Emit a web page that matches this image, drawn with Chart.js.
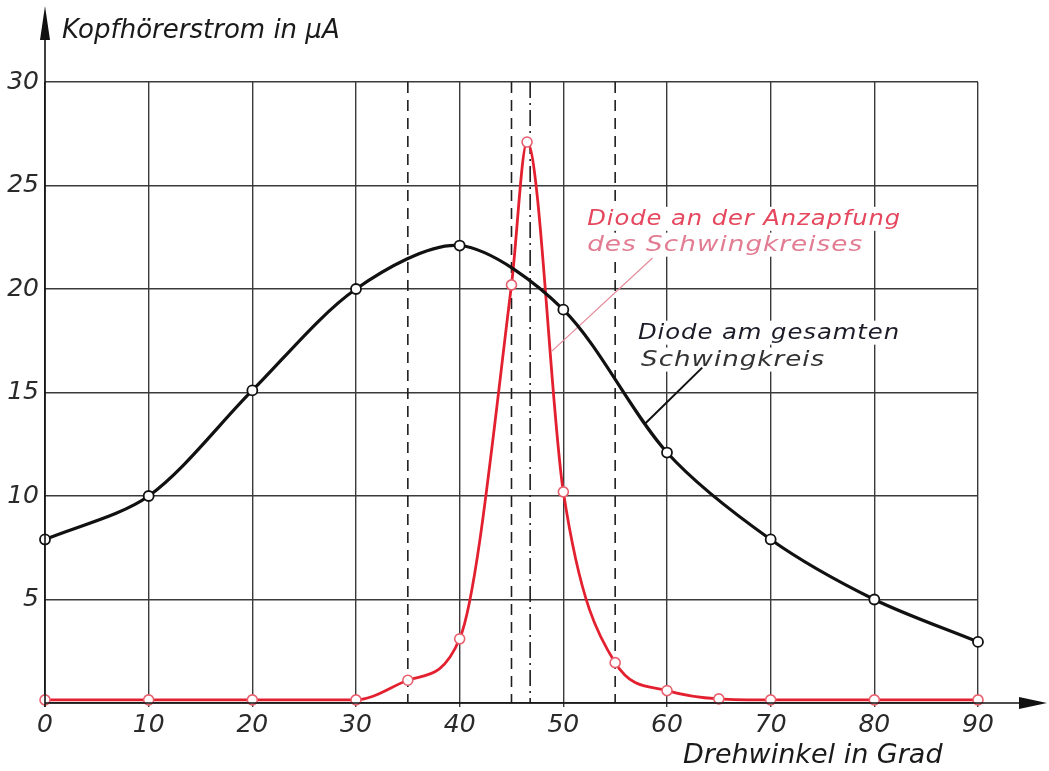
<!DOCTYPE html>
<html>
<head>
<meta charset="utf-8">
<script src="https://cdn.jsdelivr.net/npm/chart.js@4.4.1/dist/chart.umd.min.js"></script>
<style>
  body { margin: 0; background: #fff; }
  #wrap { width: 1049px; height: 771px; }
</style>
</head>
<body>
<div id="wrap"><canvas id="chart" width="1049" height="771"></canvas></div>
<script>
// Werte
const blackAngles = [0, 10, 20, 30, 40, 50, 60, 70, 80, 90];
const blackCurrent = [7.9, 10, 15.1, 20, 22.1, 19, 12.1, 7.9, 5, 2.95];

const redAngles = [0, 10, 20, 30, 35, 40, 45, 46.5, 50, 55, 60, 65, 70, 80, 90];
const redCurrent = [0.15, 0.15, 0.15, 0.15, 1.1, 3.1, 20.2, 27.1, 10.2, 1.95, 0.6, 0.2, 0.15, 0.15, 0.15];

const xTicks = [0, 10, 20, 30, 40, 50, 60, 70, 80, 90];
const yTicks = [5, 10, 15, 20, 25, 30];

const dashedAt = [35, 45, 55];
const dashDotAt = [46.8];

const fontFam = '"DejaVu Sans", "Liberation Sans", sans-serif';
const ink = '#2a2a2a';
const red = '#e3202f';

const toPoints = (xs, ys) => xs.map((x, i) => ({ x: x, y: ys[i] }));

// Zusatzelemente: Hilfslinien, Beschriftungen, Achsenpfeile
const decor = {
    id: 'decor',
    beforeDatasetsDraw(chart) {
        const ctx = chart.ctx;
        const a = chart.chartArea;
        const xs = chart.scales.x, ys = chart.scales.y;
        ctx.save();
        ctx.strokeStyle = '#1e1e1e';
        ctx.lineWidth = 1.6;
        ctx.setLineDash([11, 7]);
        dashedAt.forEach(v => {
            const px = xs.getPixelForValue(v);
            ctx.beginPath(); ctx.moveTo(px, a.top); ctx.lineTo(px, a.bottom); ctx.stroke();
        });
        ctx.setLineDash([16, 5, 2, 5]);
        dashDotAt.forEach(v => {
            const px = xs.getPixelForValue(v);
            ctx.beginPath(); ctx.moveTo(px, a.top); ctx.lineTo(px, a.bottom); ctx.stroke();
        });
        ctx.setLineDash([]);

        // Beschriftungen (breit gezogen) mit weissem Hintergrund
        ctx.font = 'italic 21px ' + fontFam;
        ctx.letterSpacing = '0.8px';
        const label = (text, xv, yv, color, width) => {
            const px = xs.getPixelForValue(xv), py = ys.getPixelForValue(yv);
            const w = ctx.measureText(text).width;
            const sx = width / w;
            ctx.fillStyle = '#fff';
            ctx.fillRect(px - 3, py - 18, width + 6, 24);
            ctx.save();
            ctx.translate(px, py);
            ctx.scale(sx, 1);
            ctx.fillStyle = color;
            ctx.fillText(text, 0, 0);
            ctx.restore();
        };
        label('Diode an der Anzapfung', 52.3, 23.1, '#e5485e', 314);
        label('des Schwingkreises', 52.3, 21.85, '#e27c92', 276);
        label('Diode am gesamten', 57.2, 17.6, '#1c1c28', 262);
        label('Schwingkreis', 57.5, 16.3, '#333', 184);
        ctx.letterSpacing = '0px';

        // Hinweislinien
        ctx.lineWidth = 1.2;
        ctx.strokeStyle = '#e58a9a';
        ctx.beginPath();
        ctx.moveTo(xs.getPixelForValue(58.6), ys.getPixelForValue(21.5));
        ctx.lineTo(xs.getPixelForValue(48.9), ys.getPixelForValue(17.0));
        ctx.stroke();
        ctx.lineWidth = 2;
        ctx.strokeStyle = '#111';
        ctx.beginPath();
        ctx.moveTo(xs.getPixelForValue(63.4), ys.getPixelForValue(16.2));
        ctx.lineTo(xs.getPixelForValue(57.9), ys.getPixelForValue(13.5));
        ctx.stroke();
        ctx.restore();
    },
    afterDraw(chart) {
        const ctx = chart.ctx;
        const a = chart.chartArea;
        ctx.save();
        ctx.strokeStyle = '#111';
        ctx.fillStyle = '#111';
        ctx.lineWidth = 1.6;
        // y-Achse mit Pfeil
        ctx.beginPath(); ctx.moveTo(a.left, a.bottom + 4); ctx.lineTo(a.left, 20); ctx.stroke();
        ctx.beginPath();
        ctx.moveTo(a.left, 6); ctx.lineTo(a.left + 5, 40); ctx.lineTo(a.left - 5, 40); ctx.closePath(); ctx.fill();
        // x-Achse mit Pfeil
        ctx.beginPath(); ctx.moveTo(a.left, a.bottom); ctx.lineTo(1030, a.bottom); ctx.stroke();
        ctx.beginPath();
        ctx.moveTo(1047, a.bottom); ctx.lineTo(1019, a.bottom - 6); ctx.lineTo(1019, a.bottom + 6); ctx.closePath(); ctx.fill();

        // Achsentitel
        ctx.fillStyle = '#1a1a1a';
        ctx.font = 'italic 26px ' + fontFam;
        ctx.fillText('Kopfhörerstrom in µA', 62, 38);
        ctx.font = 'italic 27px ' + fontFam;
        ctx.fillText('Drehwinkel in Grad', 683, 763);
        ctx.restore();
    }
};

new Chart(document.getElementById('chart'), {
    type: 'scatter',
    data: {
        datasets: [{
            label: 'Diode am gesamten Schwingkreis',
            data: toPoints(blackAngles, blackCurrent),
            showLine: true,
            clip: false,
            borderColor: '#111',
            borderWidth: 3.2,
            tension: 0.3,
            pointRadius: 5,
            pointBackgroundColor: '#fff',
            pointBorderColor: '#111',
            pointBorderWidth: 1.8
        }, {
            label: 'Diode an der Anzapfung des Schwingkreises',
            data: toPoints(redAngles, redCurrent),
            showLine: true,
            clip: false,
            borderColor: red,
            borderWidth: 2.8,
            cubicInterpolationMode: 'monotone',
            pointRadius: 5,
            pointBackgroundColor: '#fff',
            pointBorderColor: '#e8606e',
            pointBorderWidth: 1.6
        }]
    },
    options: {
        responsive: false,
        animation: false,
        layout: { padding: { top: 82, right: 71, left: 0, bottom: 0 } },
        plugins: { legend: { display: false }, tooltip: { enabled: false } },
        scales: {
            x: {
                type: 'linear',
                min: 0, max: 90,
                afterFit: s => { s.height = 68; },
                afterBuildTicks: s => { s.ticks = xTicks.map(v => ({ value: v })); },
                border: { display: false },
                grid: { color: '#3a3a3a', lineWidth: 1.4, tickLength: 4 },
                ticks: {
                    color: ink,
                    padding: 3,
                    maxRotation: 0,
                    font: { family: fontFam, size: 25, style: 'italic' }
                }
            },
            y: {
                type: 'linear',
                min: 0, max: 30,
                afterFit: s => { s.width = 45; },
                afterBuildTicks: s => { s.ticks = [0].concat(yTicks).map(v => ({ value: v })); },
                border: { display: false },
                grid: { color: '#3a3a3a', lineWidth: 1.4, drawTicks: false },
                ticks: {
                    color: ink,
                    padding: 6,
                    callback: v => v === 0 ? '' : v,
                    font: { family: fontFam, size: 25, style: 'italic' }
                }
            }
        }
    },
    plugins: [decor]
});
</script>
</body>
</html>
